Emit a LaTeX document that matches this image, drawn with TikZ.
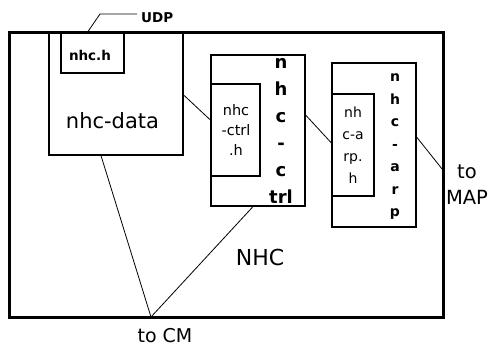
\documentclass[tikz,border=0pt]{standalone}
\usepackage{fontspec}
\setmainfont{DejaVu Sans}
\begin{document}
\begin{tikzpicture}[x=1pt,y=-1pt,
  box/.style={draw,line width=1.2pt,inner sep=0pt,rectangle},
  outerbox/.style={draw,line width=3pt,inner sep=0pt,rectangle},
  wire/.style={line width=0.8pt},
  big/.style={font=\fontsize{20}{24}\selectfont,inner sep=0pt},
  small/.style={font=\fontsize{14.5}{20}\selectfont,align=center,inner sep=0pt},
  vbold/.style={font=\bfseries\fontsize{18}{27}\selectfont,align=center,inner sep=0pt},
  vboldsm/.style={font=\bfseries\fontsize{14}{22.5}\selectfont,align=center,inner sep=0pt},
  lab/.style={font=\bfseries\fontsize{13.5}{16}\selectfont,inner sep=0pt}]
\useasboundingbox (0,0) rectangle (492,347);
% outer NHC box
\node[outerbox,minimum width=434pt,minimum height=284pt] (nhc) at (226,175) {};
% nhc-data
\node[box,minimum width=134pt,minimum height=122pt] (data) at (116,94) {};
\node[box,minimum width=63pt,minimum height=40pt] (nhch) at (92.5,53) {};
\node[lab] (nhchlab) at (90,55) {nhc.h};
\node[big,font=\fontsize{21}{24}\selectfont] (datalab) at (112.5,121) {nhc-data};
% nhc-ctrl
\node[box,minimum width=94pt,minimum height=151pt] (ctrl) at (258,130.5) {};
\node[box,minimum width=49pt,minimum height=92pt] (ctrlh) at (235.5,130) {};
\node[small] (ctrlhlab) at (236,130) {nhc\\-ctrl\\.h};
\node[vbold] (ctrllab) at (281,131) {n\\h\\c\\-\\c\\trl};
% nhc-arp
\node[box,minimum width=84pt,minimum height=164pt] (arp) at (374,145) {};
\node[box,minimum width=42pt,minimum height=102pt] (arph) at (353,145) {};
\node[small,font=\fontsize{14}{22}\selectfont] (arphlab) at (353,145) {nh\\c-a\\rp.\\h};
\node[vboldsm] (arplab) at (395,147) {n\\h\\c\\-\\a\\r\\p};
% labels
\node[lab,anchor=west] (udp) at (141,18) {UDP};
\coordinate (udpend) at (137,14);
\node[big,font=\fontsize{22}{24}\selectfont] (nhclab) at (260,257) {NHC};
\node[big,font=\fontsize{19}{24}\selectfont] (tocm) at (165,336) {to CM};
\node[big,align=center,font=\fontsize{19.5}{26}\selectfont] (tomap) at (467,185) {to\\MAP};
% connectors
\coordinate (cm) at (151,317);
\draw[wire] (nhc.north -| 88,0) -- (100,14) -- (udpend);
\draw[wire] (data.east |- 0,95) -- (ctrlh.west |- 0,120);
\draw[wire] (ctrl.east |- 0,115) -- (arph.west |- 0,143);
\draw[wire] (arp.east |- 0,137) -- (nhc.east |- 0,172);
\draw[wire] (data.south -| 101,0) -- (cm);
\draw[wire] (ctrl.south -| 253,0) -- (cm);
\end{tikzpicture}
\end{document}
